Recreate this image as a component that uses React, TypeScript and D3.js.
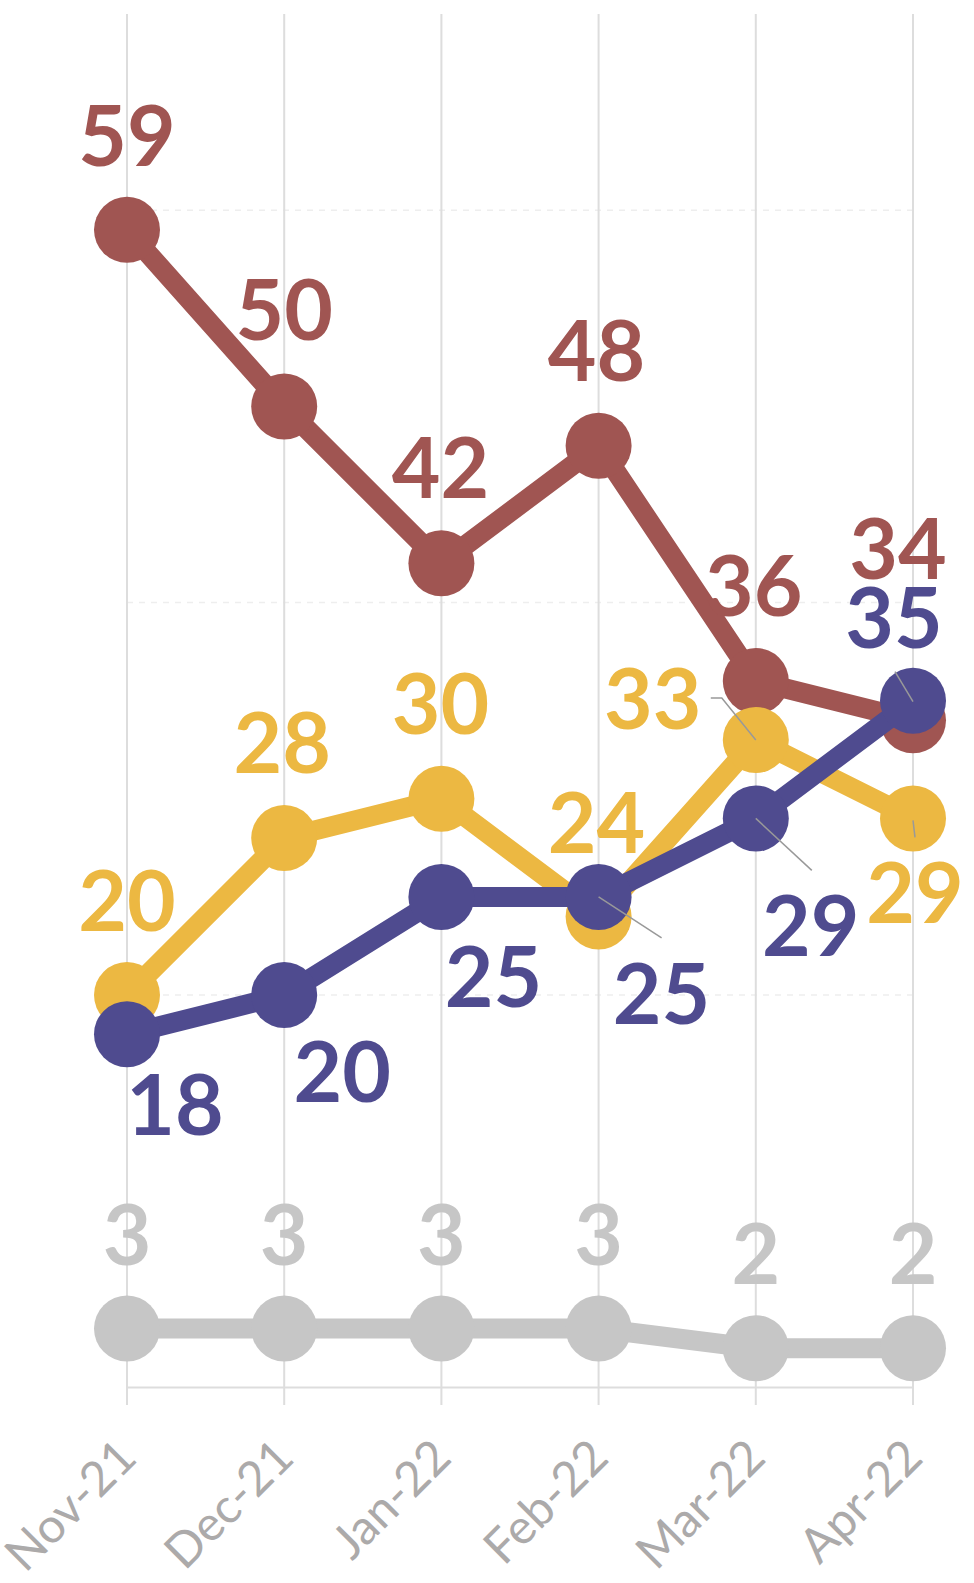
import React from "react";
import * as d3 from "d3";

const months = ["Nov-21", "Dec-21", "Jan-22", "Feb-22", "Mar-22", "Apr-22"];

const redValues = [59, 50, 42, 48, 36, 34];
const yellowValues = [20, 28, 30, 24, 33, 29];
const blueValues = [18, 20, 25, 25, 29, 35];
const grayValues = [3, 3, 3, 3, 2, 2];

const gridValues = [20, 40, 60];

// label offsets from each point (text centre, baseline)
const redLabelOffsets = [[0, -64], [0, -66], [-1, -65], [-2, -65], [-2, -65], [-15, -141]];
const yellowLabelOffsets = [[0, -64], [-2, -65], [-1, -65], [-2, -64], [-103, -11], [2, 105]];
const blueLabelOffsets = [[48, 101], [58, 107], [52, 110], [63, 127], [55, 138], [-19, -53]];
const grayLabelOffsets = [[0, -64], [0, -64], [0, -64], [0, -64], [0, -64], [0, -64]];

// leader lines, relative to the point
const yellowLeaders = { 4: [[-45, -42], [-34, -42], [0, 0]], 5: [[0, 2], [2, 19]] };
const blueLeaders = { 3: [[0, 0], [63, 41]], 4: [[0, 0], [56, 52]], 5: [[-18, -29], [0, 1]] };

const series = [
  { name: "gray", values: grayValues, color: "#c6c6c6", offsets: grayLabelOffsets, leaders: {} },
  { name: "red", values: redValues, color: "#a05552", offsets: redLabelOffsets, leaders: {} },
  { name: "yellow", values: yellowValues, color: "#ecb842", offsets: yellowLabelOffsets, leaders: yellowLeaders },
  { name: "blue", values: blueValues, color: "#4f4b8f", offsets: blueLabelOffsets, leaders: blueLeaders },
];

export default function App() {
  const width = 974;
  const height = 1583;
  const x = d3.scalePoint<string>().domain(months).range([127, 913]);
  const y = d3.scaleLinear().domain([0, 70]).range([1387.4, 14]);

  const line = d3
    .line<number>()
    .x((_, i) => x(months[i]) as number)
    .y((d) => y(d));

  const labelFont = "Lato, 'DejaVu Sans', sans-serif";

  return (
    <svg
      width={width}
      height={height}
      style={{ position: "absolute", left: 0, top: 0, background: "#fff" }}
    >
      {gridValues.map((g) => (
        <line
          key={g}
          x1={x(months[0])}
          x2={x(months[months.length - 1])}
          y1={y(g)}
          y2={y(g)}
          stroke="#eeeeee"
          strokeWidth={1.5}
          strokeDasharray="6,6"
        />
      ))}
      {months.map((m) => (
        <line
          key={m}
          x1={x(m)}
          x2={x(m)}
          y1={y(70)}
          y2={1405}
          stroke="#dddddd"
          strokeWidth={2}
        />
      ))}
      <line
        x1={x(months[0])}
        x2={x(months[months.length - 1])}
        y1={y(0)}
        y2={y(0)}
        stroke="#dddddd"
        strokeWidth={2}
      />
      {months.map((m) => (
        <text
          key={m}
          transform={`translate(${(x(m) as number) + 12},1460) rotate(-45)`}
          textAnchor="end"
          fontFamily={labelFont}
          fontSize={48}
          fill="#acaaaa"
        >
          {m}
        </text>
      ))}

      {series.map((s) => (
        <g key={s.name}>
          <path d={line(s.values) || ""} fill="none" stroke={s.color} strokeWidth={20} />
          {s.values.map((v, i) => (
            <circle key={i} cx={x(months[i])} cy={y(v)} r={33} fill={s.color} />
          ))}
        </g>
      ))}

      {series.map((s) => (
        <g key={s.name + "-leaders"}>
          {Object.entries(s.leaders).map(([k, pts]) => {
            const i = +k;
            const px = x(months[i]) as number;
            const py = y(s.values[i]);
            const d = d3.line()((pts as number[][]).map((p) => [px + p[0], py + p[1]] as [number, number]));
            return <path key={k} d={d || ""} fill="none" stroke="#999999" strokeWidth={1.5} />;
          })}
        </g>
      ))}

      {series.map((s) => (
        <g key={s.name + "-labels"}>
          {s.values.map((v, i) => (
            <text
              key={i}
              x={(x(months[i]) as number) + s.offsets[i][0]}
              y={y(v) + s.offsets[i][1]}
              textAnchor="middle"
              fontFamily={labelFont}
              fontWeight={700}
              fontSize={84}
              fill={s.color}
            >
              {v}
            </text>
          ))}
        </g>
      ))}
    </svg>
  );
}
